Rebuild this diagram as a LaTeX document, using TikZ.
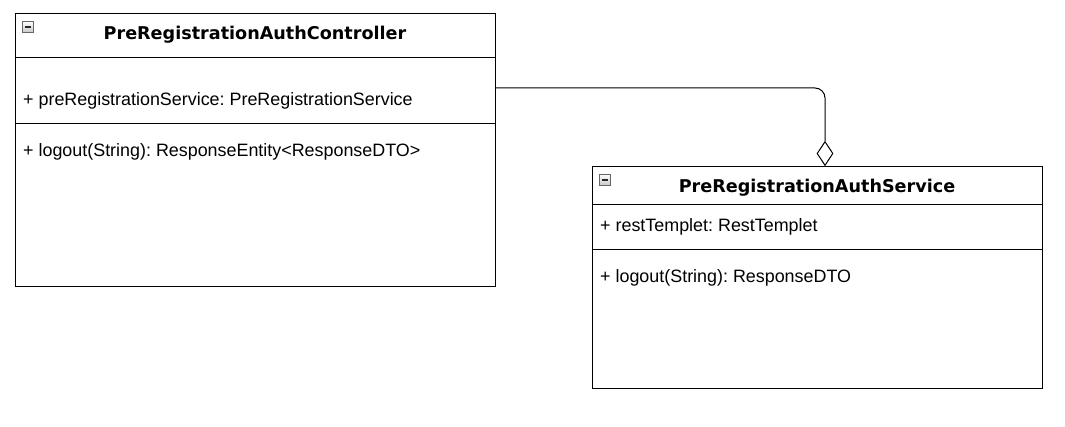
\documentclass[tikz,border=0pt]{standalone}
\usepackage{fontspec}
\setmainfont{Liberation Sans}
\newfontfamily\titlefont{DejaVu Sans}
\usetikzlibrary{shapes.geometric}
\frenchspacing
\begin{document}
\begin{tikzpicture}[x=1pt,y=-1pt,
  box/.style={draw=black,line width=1pt},
  sep/.style={draw=black,line width=1pt},
  ttl/.style={font=\titlefont\bfseries\fontsize{17.6}{20}\selectfont,inner sep=0pt},
  mem/.style={font=\fontsize{17.9}{20}\selectfont,anchor=west,inner sep=0pt},
  icon/.style={draw=gray!80!black,line width=0.7pt,top color=white,bottom color=gray!45,minimum size=11.5pt,inner sep=0pt},
  agg/.style={draw=black,fill=white,line width=1pt,diamond,minimum width=16pt,minimum height=24pt,inner sep=0pt}]
\useasboundingbox (0,0) rectangle (1065,427);
% Controller
\node[box,minimum width=480pt,minimum height=273pt,inner sep=0pt,anchor=north west] (c) at (15,13) {};
\draw[sep] (15,58) -- (495,58);
\draw[sep] (15,124) -- (495,124);
\node[icon] (ci) at (28,27) {};
\draw[line width=1.2pt,gray!30!black] (25,27) -- (31,27);
\node[ttl] (ct) at (255,35) {PreRegistrationAuthController};
\node[mem] (ca) at (23,100.5) {+ preRegistrationService: PreRegistrationService};
\node[mem] (cm) at (23,151.5) {+ logout(String): ResponseEntity<ResponseDTO>};
% Service
\node[box,minimum width=450pt,minimum height=222pt,inner sep=0pt,anchor=north west] (s) at (592,166) {};
\draw[sep] (592,205) -- (1042,205);
\draw[sep] (592,250) -- (1042,250);
\node[icon] (si) at (605,180) {};
\draw[line width=1.2pt,gray!30!black] (602,180) -- (608,180);
\node[ttl] (st) at (817,188) {PreRegistrationAuthService};
\node[mem] (sa) at (600,226.5) {+ restTemplet: RestTemplet};
\node[mem] (sm) at (600,277.5) {+ logout(String): ResponseDTO};
% Aggregation
\node[agg,anchor=south] (d) at (825,166) {};
\coordinate (start) at (495,88);
\draw[line width=1pt,rounded corners=10pt] (start) -- (825,88) -- (d.north);
\end{tikzpicture}
\end{document}
